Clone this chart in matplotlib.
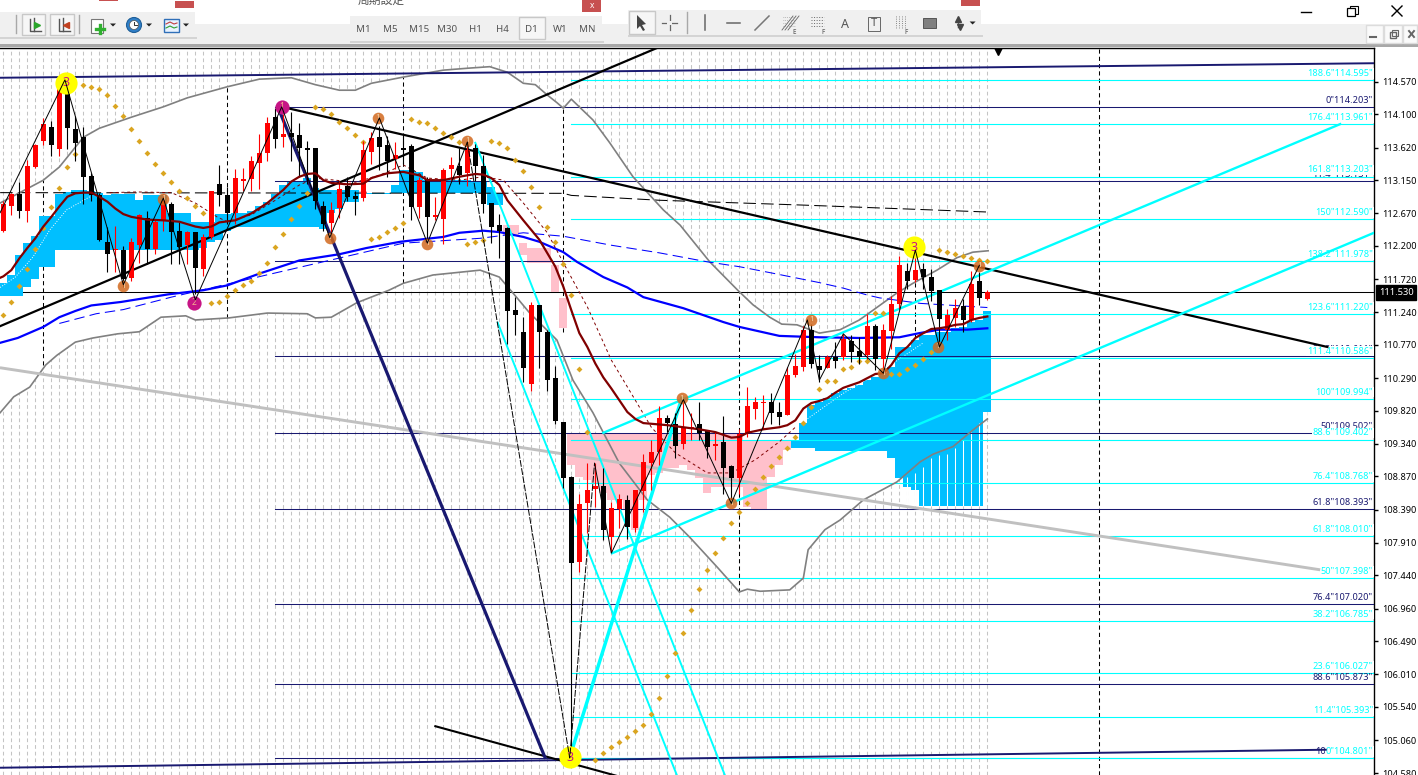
import matplotlib
matplotlib.use("Agg")
import matplotlib.pyplot as plt
from matplotlib.patches import Rectangle, Polygon, Circle
import numpy as np

plt.rcParams['font.family'] = ['Noto Sans', 'DejaVu Sans']

# ---------- candles: one row per day, index 0..123 ----------
opens = [112.41,112.77,112.95,112.70,113.34,113.71,113.92,113.60,114.51,113.89,
         113.78,113.21,112.94,112.26,112.14,112.14,111.74,112.22,112.61,112.16,
         112.56,112.81,112.42,112.22,112.40,111.86,112.33,113.10,112.93,112.68,
         113.14,113.16,113.40,113.54,114.06,113.78,113.83,113.81,113.61,113.61,
         112.77,112.53,112.75,113.06,112.92,112.89,113.55,113.78,113.66,113.45,
         113.62,113.64,112.76,113.17,112.62,112.59,113.31,113.36,113.25,113.61,
         113.35,112.82,112.50,112.46,111.27,110.95,110.20,111.34,110.96,110.29,
         109.65,108.86,107.64,108.49,108.69,108.73,107.99,108.40,108.53,108.12,
         108.66,109.07,109.22,109.72,109.63,109.34,109.57,109.62,109.52,109.31,
         109.37,109.02,108.85,109.49,109.84,109.93,109.95,109.80,109.76,110.34,
         110.45,110.98,110.46,110.43,110.59,110.59,110.83,110.68,110.62,111.04,
         110.56,110.97,111.36,111.84,111.71,111.87,111.75,111.56,110.99,111.16,
         111.33,111.13,111.69,111.44]
highs = [112.85,112.97,113.13,113.44,113.68,114.05,114.00,114.59,114.59,114.08,
         113.92,113.26,112.97,112.47,112.49,112.20,112.32,112.66,112.71,112.57,
         112.95,112.83,112.54,112.42,112.40,112.37,113.00,113.37,113.05,113.31,
         113.33,113.50,113.82,114.07,114.20,114.10,114.14,113.98,113.72,113.62,
         112.85,112.84,113.14,113.19,113.00,113.72,113.84,113.94,113.79,113.70,
         113.79,113.67,113.19,113.19,112.90,113.33,113.48,113.62,113.67,113.67,
         113.51,112.82,112.66,112.47,111.46,111.17,111.39,111.35,110.98,110.46,
         109.66,108.87,108.62,109.06,109.06,108.99,108.50,108.62,108.60,108.68,
         109.19,109.39,109.88,109.75,109.78,109.99,109.78,109.94,109.54,109.51,
         109.74,109.03,109.56,110.16,110.02,110.04,110.07,109.95,110.45,110.64,
         111.05,111.07,110.62,110.62,110.81,110.93,110.91,110.88,111.21,111.07,
         111.07,111.47,112.06,111.96,112.08,111.96,111.87,111.57,111.29,111.44,
         111.44,111.84,111.82,111.57]
lows = [112.40,112.64,112.61,112.54,113.33,113.66,113.50,113.50,113.60,113.43,
        112.81,112.85,112.27,111.82,111.83,111.60,111.70,111.96,111.94,112.08,
        112.42,111.94,111.94,111.94,111.51,111.76,112.30,112.78,112.52,112.52,
        113.00,113.00,113.02,113.43,113.62,113.63,113.43,113.19,113.10,112.73,
        112.42,112.37,112.61,112.85,112.64,112.85,113.38,113.29,113.19,113.31,
        113.38,112.57,112.61,112.28,112.57,112.23,113.14,113.10,113.07,113.14,
        112.67,112.24,112.03,110.79,110.91,110.23,110.10,110.43,110.11,109.62,
        108.70,104.80,107.49,108.05,108.43,107.95,107.78,108.12,107.96,108.07,
        108.36,108.67,109.03,109.51,109.13,109.27,109.39,109.39,109.14,109.10,
        108.62,108.50,108.62,109.44,109.70,109.56,109.63,109.61,109.75,110.31,
        110.39,110.43,110.24,110.43,110.44,110.55,110.52,110.50,110.57,110.40,
        110.38,110.71,111.29,111.58,111.68,111.58,111.41,110.74,110.84,111.03,
        110.95,111.10,111.35,111.42]
closes = [112.80,112.95,112.71,113.36,113.66,113.96,113.66,114.50,113.91,113.69,
          113.19,112.93,112.28,112.09,112.16,111.72,112.25,112.65,112.16,112.54,
          112.85,112.40,112.19,112.40,111.88,112.33,113.00,112.93,112.67,113.18,
          113.16,113.43,113.54,113.98,113.75,113.82,113.78,113.61,113.59,112.85,
          112.52,112.72,113.02,112.91,112.88,113.58,113.76,113.63,113.43,113.51,
          113.59,112.76,113.15,112.62,112.64,113.30,113.37,113.23,113.59,113.36,
          112.81,112.48,112.42,111.26,111.20,110.44,111.34,110.95,110.26,109.67,
          108.85,107.62,108.47,108.67,108.73,108.10,108.42,108.54,108.14,108.67,
          109.08,109.22,109.72,109.64,109.31,109.58,109.58,109.49,109.30,109.34,
          108.99,108.85,109.48,109.88,109.94,109.95,109.79,109.73,110.34,110.46,
          110.98,110.50,110.40,110.59,110.53,110.85,110.67,110.60,111.04,110.57,
          110.98,111.36,111.93,111.70,111.85,111.75,111.55,111.14,111.20,111.31,
          111.13,111.65,111.45,111.53]

# ---------- moving averages and bands ----------
ma_red_i = [-0.4,0,1,2,3,4,5,6,7,8,9,10,11,12,13,14,15,16,17,18,20,22,24,25,26,27,29,31,33,35,36,37,38,39,40,41,43,45,46,48,50,52,53,55,57,59,
            60,61,62,63,65,67,69,70,71,72,73,74,75,76,77,78,79,80,81,83,85,87,89,91,92,93,95,97,98,99,100,101,102,103,104,105,106,107,108,109,110,111,112,113,114,115,116,117,118,119,120,121,122,123]
ma_red = [111.74,111.76,111.85,112.02,112.17,112.31,112.48,112.62,112.77,112.91,112.96,112.97,112.97,112.91,112.84,112.74,112.66,112.62,112.60,112.58,112.57,112.55,112.48,112.46,112.48,112.54,112.57,112.67,112.82,113.01,113.13,113.20,113.24,113.25,113.15,113.11,113.09,113.10,113.18,113.25,113.27,113.22,113.15,113.15,113.20,113.24,
          113.23,113.18,113.08,112.86,112.57,112.29,111.90,111.61,111.27,110.94,110.74,110.50,110.30,110.14,109.97,109.80,109.70,109.64,109.63,109.61,109.58,109.55,109.51,109.43,109.44,109.50,109.55,109.58,109.61,109.68,109.85,109.93,109.96,110.00,110.08,110.15,110.19,110.23,110.29,110.35,110.36,110.48,110.65,110.74,110.87,110.94,111.00,111.01,111.03,111.06,111.07,111.13,111.16,111.18]
ma_blue_i = [-0.4,1.8,5,7,9,11,14.7,20.6,25,28,32,37,42,45.4,49.6,55,57,60,62,65,67,70,71.7,75,78,80,85,90,92,97,102,107,112,114.5,117,120.5,123]
ma_blue = [110.80,110.87,111.03,111.17,111.26,111.34,111.39,111.50,111.56,111.63,111.80,111.99,112.08,112.17,112.26,112.33,112.39,112.42,112.40,112.33,112.26,112.11,111.97,111.75,111.60,111.46,111.30,111.10,111.03,110.90,110.88,110.87,110.88,110.94,110.99,110.99,111.01]
ma_blue2_i = [7,11.6,15,18,21,50,59.6,65,70,76,82,88,92,96,102,105,108,109.5,114.6,123]
ma_blue2 = [111.08,111.22,111.28,111.37,111.46,112.24,112.31,112.39,112.34,112.21,112.10,111.97,111.90,111.81,111.67,111.59,111.49,111.45,111.37,111.31]
ma_dash_i = [13.3,16.7,21,24,26.7,28,31,34,37,39,44,47,50,53,57,60,62.5,65,68,70.5,73,76,79,81,84,88,91,94,97,99]
ma_dash = [112.97,112.98,112.97,112.82,112.62,112.55,112.65,112.86,113.08,113.18,113.12,113.22,113.37,113.18,113.15,113.20,113.15,112.82,112.39,111.85,111.32,110.55,109.97,109.58,109.21,108.92,108.92,109.11,109.37,109.58]
long_dash_i = [-0.4,70,71,82,100,123]
long_dash = [112.97,112.96,112.93,112.86,112.79,112.69]
band_up_i = [-0.4,5,7,10,12,16,20,23,28,32,36,39,42,44,46,50,55,58.3,60.8,63,65,66.5,68,69.2,70,71,73.7,75.8,78.7,82.5,84.6,88.3,91.8,93.7,95.8,97.3,99.2,102,104.6,107,108.7,111.7,113.7,116.7,119.2,121.2,123.1]
band_up = [112.82,113.15,113.34,113.77,113.90,114.06,114.21,114.34,114.50,114.61,114.63,114.53,114.45,114.45,114.55,114.64,114.74,114.77,114.79,114.71,114.55,114.53,114.38,114.27,114.19,114.32,114.02,113.69,113.20,112.72,112.50,111.97,111.56,111.35,111.17,111.07,111.06,110.94,110.99,111.13,111.27,111.52,111.66,111.85,112.03,112.11,112.13]
band_lo_i = [-0.4,1.3,3.3,5.3,6.7,9,11.2,14.3,17,19.7,22.8,24,28.2,33,38,39,41,44.2,48.2,50,53.7,59.6,62,63.7,65.8,69.2,71.2,73.7,77,80.5,83.3,85.8,89.3,92,93,94.6,98.3,100,100.6,102.7,104.6,107.5,111.7,114.6,116.2,118.7,121.2,123]
band_lo = [109.79,110.02,110.16,110.48,110.62,110.81,110.87,110.93,110.96,111.17,111.19,111.13,111.16,111.23,111.22,111.16,111.17,111.38,111.56,111.66,111.78,111.85,111.75,111.52,111.23,110.84,110.26,109.79,109.06,108.53,108.28,107.99,107.55,107.20,107.24,107.21,107.23,107.40,107.81,108.10,108.24,108.53,108.79,109.08,109.19,109.30,109.54,109.70]
white_l_i = [-0.4,1.5,3.7,5.8,7.9,10.8]
white_l = [111.60,111.75,112.04,112.43,112.72,112.91]
white_r_i = [100,105,110,115]
white_r = [109.66,110.07,110.41,110.80]

# ---------- parabolic dots ----------
sar_i = [0,1,2,3,4,5,6,7,8,9,10,11,12,13,14,15,16,17,18,19,20,21,22,23,24,25,26,27,28,29,30,31,32,33,34,35,36,37,38,39,40,41,42,43,44,45,46,47,48,49,50,51,52,53,54,55,56,57,58,59,60,61,62,63,64,65,66,67,68,69,70,71,72,73,74,75,76,77,78,79,80,81,82,83,84,85,86,87,88,89,90,91,92,93,94,95,96,97,98,99,100,101,102,103,104,105,106,107,108,109,110,111,112,113,114,115,116,117,118,119,120,121,122,123]
sar = [111.20,111.39,111.62,111.87,112.16,112.46,112.76,113.04,113.34,113.53,114.53,114.50,114.47,114.38,114.22,114.08,113.89,113.72,113.54,113.38,113.25,113.12,112.99,112.89,112.78,112.68,111.38,111.39,111.48,111.56,111.63,111.69,111.81,111.95,112.18,112.37,112.59,112.78,112.97,114.21,114.18,114.11,113.99,113.90,113.80,113.70,112.30,112.33,112.40,112.46,112.53,114.03,113.99,113.98,113.90,113.83,113.77,113.70,112.23,112.26,112.29,113.72,113.69,113.61,113.44,113.28,113.05,112.76,112.47,112.26,111.94,111.49,110.42,109.51,104.77,104.87,104.96,105.03,105.10,105.19,105.28,105.44,105.67,105.98,106.32,106.61,106.94,107.24,107.52,107.76,107.98,108.20,108.35,108.48,108.69,108.86,109.02,109.15,109.28,109.44,109.64,109.87,110.13,110.25,110.25,110.42,110.45,110.54,110.54,111.23,111.23,110.35,110.35,110.42,110.48,110.57,110.67,112.14,112.11,112.08,112.05,112.03,112.00,111.98]

# ---------- cloud ----------
blue_i = list(range(0,45)) + [46,47,48,49,50,51,52,53,54,55,56,57,58,59,60,61,62] + list(range(99,124))
blue_top = [111.66,111.78,112.07,112.24,112.34,112.63,112.63,112.95,112.98,113.01,113.01,113.00,112.97,112.94,112.95,112.95,112.95,112.86,112.94,112.94,112.94,112.67,112.67,112.67,112.55,112.55,112.55,112.66,112.66,112.67,112.67,112.70,112.77,112.84,112.95,113.08,113.13,113.13,113.18,113.03,113.01,113.01,113.01,113.01,113.01,
            112.97,112.97,112.97,113.08,113.29,113.30,113.27,113.15,113.15,113.15,113.15,113.15,113.15,113.13,113.12,113.05,112.96,
            109.39,109.64,109.90,109.94,110.00,110.07,110.12,110.15,110.19,110.26,110.31,110.36,110.45,110.74,110.74,110.84,110.91,110.91,110.96,110.96,111.01,111.03,111.10,111.13,111.26]
blue_bot = [111.47,111.47,111.47,111.61,111.72,111.90,111.90,112.14,112.14,112.14,112.14,112.14,112.14,112.14,112.14,112.14,112.14,112.14,112.14,112.14,112.14,112.14,112.14,112.14,112.14,112.17,112.26,112.29,112.41,112.47,112.47,112.47,112.47,112.47,112.47,112.47,112.47,112.47,112.47,112.47,112.45,112.67,112.74,112.84,112.84,
            112.95,112.95,112.95,112.96,112.96,112.96,112.96,112.96,112.96,112.96,112.96,112.96,112.96,112.96,112.96,112.79,112.79,
            109.28,109.28,109.28,109.24,109.24,109.24,109.24,109.24,109.24,109.24,109.24,109.24,109.14,108.85,108.72,108.67,108.44,108.44,108.44,108.44,108.44,108.44,108.44,108.44,109.80]
pink_i = [45,63,64,65,66,67,68,69,70] + list(range(71,99))
pink_top = [113.00,112.50,112.50,112.24,112.17,112.17,112.17,111.92,111.45] + [109.50]*22 + [109.39]*6
pink_bot = [112.96,112.36,112.36,112.07,111.95,111.95,111.95,111.53,111.01,
            109.03,108.86,108.82,108.77,108.63,108.53,108.53,108.38,108.10,108.53,108.89,108.92,108.99,108.99,109.03,108.96,108.85,108.63,108.72,108.72,108.72,108.72,
            108.43,108.38,108.38,108.86,109.03,109.25]
gap_i = [113,114,115,116,117,118,119,120,121,122]
gap_top = [108.86,108.92,109.00,109.14,109.18,109.19,109.28,109.39,109.51,109.64]
gap_bot = [108.44]*10

# ---------- zigzag ----------
zig_i = [-0.4,7.7,15,20,24,34.8,40.8,47,53,58]
zig_p = [112.68,114.60,111.64,112.89,111.42,114.21,112.32,114.05,112.24,113.70]
zig_dash_i = [58,70.8,73.9]
zig_dash_p = [113.70,104.80,109.06]
zig2_i = [73.9,76,85,91,100.5,102,105,110,114,117,122]
zig2_p = [109.06,107.76,109.98,108.48,111.13,110.26,110.93,110.36,112.14,110.74,111.92]

# ---------- fib levels ----------
navy_levels = [114.203,113.131,111.984,110.611,109.502,108.393,107.020,105.873,104.801]
navy_labels = ['0"114.203"','11.4"113.131"','23.6"111.984"','38.2"110.611"','50"109.502"','61.8"108.393"','76.4"107.020"','88.6"105.873"','100"104.801"']
cyan_levels = [114.595,113.961,113.203,112.590,111.978,111.220,110.586,109.994,109.402,108.768,108.010,107.398,106.785,106.027,105.393,104.801]
cyan_labels = ['188.6"114.595"','176.4"113.961"','161.8"113.203"','150"112.590"','138.2"111.978"','123.6"111.220"','111.4"110.586"','100"109.994"','88.6"109.402"','76.4"108.768"','61.8"108.010"','50"107.398"','38.2"106.785"','23.6"106.027"','11.4"105.393"','0"104.801"']

y_ticks = [114.570,114.100,113.620,113.150,112.670,112.200,111.720,111.240,110.770,110.290,109.820,109.340,108.870,108.390,107.910,107.440,106.960,106.490,106.010,105.540,105.060,104.580]
separators = [5,28,50,70,92,114,137]
sep_up = [113.15,114.50,114.64,114.19,111.55,111.68,115.06]
sep_lo = [110.48,111.16,111.66,110.95,107.20,109.08,104.555]
last_price = 111.530

orange_i = [15,20,40.8,46.8,53,58,84.8,91,101,110,116.8,122]
orange_p = [111.62,112.88,112.32,114.05,112.23,113.72,110.00,108.48,111.13,110.36,110.74,111.91]
magenta_i = [34.8,23.8]
magenta_p = [114.21,111.38]
yellow_i = [7.8,113.8,70.8]
yellow_p = [114.56,112.18,104.81]

timeframes = ['M1','M5','M15','M30','H1','H4','D1','W1','MN']

W, H, TOP, RIGHT = 1418, 775, 48, 1374
fig = plt.figure(figsize=(W/100, H/100), dpi=100, facecolor='white')

# ---------- window chrome, in pixels ----------
ui = fig.add_axes([0,0,1,1], zorder=0)
ui.set_xlim(0,W); ui.set_ylim(H,0); ui.axis('off')
def box(x0,y0,x1,y1,fc,ec='none',lw=0,z=1):
    ui.add_patch(Rectangle((x0,y0),x1-x0,y1-y0,fc=fc,ec=ec,lw=lw,zorder=z))
GR = '#f0f0f0'
box(0,24,W,44,GR); box(0,44,W,46.5,'#a8a8a8')
for (a,b,c,d) in [(0,195,12,37),(350,602,16,41),(628,981,10,35)]:
    box(a,0,b,c,'white',z=2); box(a,c,b,d,GR,z=2); box(a,d,b+2,d+2,'#d4d4d4',z=1.5)
box(99,0,118,1,'#c75050',z=3); box(175,1,194,8,'#c75050',z=3)
box(582,0,601,12,'#c75050',z=3); box(961,0,980,6,'#c75050',z=3)
ui.text(592,5,'x',color='white',fontsize=6,ha='center',va='center',zorder=4)
ui.text(381,6.5,'周期設定',family=['Noto Sans CJK JP','DejaVu Sans'],fontsize=8.5,color='#555555',ha='center',va='bottom',zorder=4)
tx = [363,390.5,419,447,475.5,502.5,531.5,560,587]
for x,t in zip(tx,timeframes):
    ui.text(x,29,t,fontsize=7,color='#555555',ha='center',va='center',zorder=4)
box(519,17,544.5,39,'#f6f6f6','#c8c8c8',1,3)
for x in (16,79,687):
    ui.plot([x,x],[15 if x<600 else 12,33],color='#a8a8a8',lw=1,zorder=4)
box(22,14,45,35,'#f6f6f6','#c8c8c8',1,3); box(50,14,74,35,'#f6f6f6','#c8c8c8',1,3)
for x,mark in ((33,'#2aa52a'),(62,'#c04020')):
    ui.plot([x-3,x-3,x+8],[19,31,31],color='#555555',lw=1,zorder=4)
    ui.plot([x+1,x+1],[18,31],color='#555555',lw=1,zorder=4)
    ui.plot([x+4],[25],marker='>' if x==33 else '<',ms=4,color=mark,zorder=4)
box(91,19,103,33,'white','#777777',0.8,4)
ui.plot([96,104],[29,29],color='#30b030',lw=2.4,zorder=5); ui.plot([100,100],[25,33],color='#30b030',lw=2.4,zorder=5)
ui.add_patch(Circle((134,25),7.5,fc='#2f7fc8',ec='#1f5f98',lw=0.8,zorder=4))
ui.add_patch(Circle((134,25),4.5,fc='white',ec='#555555',lw=0.5,zorder=5))
ui.plot([134,134,137],[22,25,25],color='#333333',lw=0.7,zorder=6)
box(164,19,179,32,'#e8f2ff','#2f6fb8',1,4)
ui.plot([166,170,174,177],[24,22,24,23],color='#c04040',lw=0.8,zorder=5)
ui.plot([166,170,174,177],[28,26,28,27],color='#30a030',lw=0.8,zorder=5)
for x,y in ((113,25),(149,25),(186,25),(972.6,23)):
    ui.add_patch(Polygon([(x-3,y-1.5),(x+3,y-1.5),(x,y+1.5)],fc='#222222',zorder=5))
box(629,11,655,34,'#f6f6f6','#c8c8c8',1,3)
ui.add_patch(Polygon([(637,15),(637,29),(640,26),(643,31),(645,30),(642,25),(646,24)],fc='#444444',zorder=5))
ui.plot([662,677],[23,23],color='#666666',lw=0.9,zorder=5); ui.plot([669.6,669.6],[15,30],color='#666666',lw=0.9,zorder=5)
box(667,21,672,25,GR,z=5.5)
ui.plot([705,705],[15,30],color='#666666',lw=1.1,zorder=5)
ui.plot([727,740],[23,23],color='#666666',lw=1.1,zorder=5)
ui.plot([755,769],[30,16],color='#777777',lw=1.1,zorder=5)
for d in (0,3,6):
    ui.plot([782+d,793+d],[30,16],color='#666666',lw=0.6,zorder=5)
for yy in (17,20,23,26):
    ui.plot([783,795],[yy,yy],color='#888888',lw=0.5,ls=':',zorder=5)
    ui.plot([811,824],[yy,yy],color='#666666',lw=0.7,ls=':',zorder=5)
ui.text(794,32,'E',fontsize=4.5,weight='bold',color='#444444',ha='center',va='center',zorder=5)
ui.text(823,32,'F',fontsize=4.5,weight='bold',color='#444444',ha='center',va='center',zorder=5)
ui.text(845,24,'A',fontsize=9,weight='bold',color='#555555',ha='center',va='center',zorder=5)
box(868,17,880,31,'none','#666666',0.7,5); ui.text(874,24,'T',fontsize=8,weight='bold',color='#555555',ha='center',va='center',zorder=5)
for xx in (896,899,902,905):
    ui.plot([xx,xx],[16,29],color='#666666',lw=0.6,ls=':',zorder=5)
ui.text(906,32,'F',fontsize=4.5,weight='bold',color='#444444',ha='center',va='center',zorder=5)
ui.add_patch(Rectangle((923,18),13,10,fc='#808080',ec='#555555',lw=0.7,zorder=5))
ui.plot([958,958],[19,28],color='#444444',lw=1,ls=':',zorder=5)
ui.plot([958],[19],marker='^',ms=4,color='#444444',zorder=5); ui.plot([960],[27],marker='v',ms=4,color='#444444',zorder=5)
ui.plot([1301,1311],[11.5,11.5],color='black',lw=1,zorder=5)
box(1349.5,6,1357.5,14,'none','black',0.8,4.5); box(1347,8,1355,16,'white','black',0.9,4.7)
ui.plot([1392,1402],[6,16],color='black',lw=1,zorder=5); ui.plot([1392,1402],[16,6],color='black',lw=1,zorder=5)
for a,b in ((1366,1383),(1384,1402),(1403,1417)):
    box(a,25,b,43,'#fafafa','#dcdcdc',1,3)
ui.plot([1370,1376],[37,37],color='#666666',lw=1.5,zorder=5)
box(1390,32,1396,38,'none','#666666',1,5); box(1392,30,1398,36,'none','#666666',0.8,5)
ui.plot([1409,1414],[31,37],color='#666666',lw=1.4,zorder=5); ui.plot([1409,1414],[37,31],color='#666666',lw=1.4,zorder=5)

# ---------- price chart ----------
ax = fig.add_axes([0, 0, RIGHT/W, (H-TOP)/H], zorder=1, facecolor='white')
ax.set_xlim(-0.416, 171.33)
ax.set_ylim(104.555, 115.06)
ymin, ymax = ax.get_ylim()

idx = np.arange(len(opens))
ax.vlines(idx, ymin, ymax, color='#c4c4c4', lw=0.75, linestyles=(0,(3.6,2.8)), zorder=1)
ax.fill(list(band_up_i)+list(band_lo_i[::-1]), list(band_up)+list(band_lo[::-1]), color='white', lw=0, zorder=1.2)
ax.vlines(separators, sep_lo, sep_up, color='black', lw=0.75, linestyles=(0,(4,3)), zorder=1.5)
ax.axhline(last_price, color='black', lw=0.75, zorder=1.6)

ax.bar(blue_i, np.array(blue_top)-np.array(blue_bot), bottom=blue_bot, width=1.0, color='#00BFFF', lw=0, zorder=2)
ax.bar(pink_i, np.array(pink_top)-np.array(pink_bot), bottom=pink_bot, width=1.0, color='#FFC0CB', lw=0, zorder=2)
ax.vlines(gap_i, gap_bot, gap_top, color='white', lw=0.75, zorder=2.1)
ax.plot(white_l_i, white_l, color='white', lw=0.7, ls=':', zorder=2.2)
ax.plot(white_r_i, white_r, color='white', lw=0.7, ls=':', zorder=2.2)

for lev in navy_levels:
    ax.plot([34, 171.2], [lev, lev], color='#191970', lw=0.75, zorder=3)
for lev in cyan_levels:
    ax.plot([71, 171.2], [lev, lev], color='#00FFFF', lw=0.8, zorder=3.1)
for lev, t in zip(navy_levels, navy_labels):
    ax.text(171.2, lev+0.03, t, color='#191970', fontsize=6.6, ha='right', va='bottom', zorder=3.2)
for lev, t in zip(cyan_levels, cyan_labels):
    ax.text(171.2, lev+0.03, t, color='#00FFFF', fontsize=6.6, ha='right', va='bottom', zorder=3.3,
            bbox=dict(boxstyle='square,pad=0.08', fc='white', ec='none'))

ax.plot(band_up_i, band_up, color='#808080', lw=1.2, zorder=3.5)
ax.plot(band_lo_i, band_lo, color='#808080', lw=1.2, zorder=3.5)
ax.plot(long_dash_i, long_dash, color='black', lw=0.75, dashes=(12,5), zorder=3.4)
ax.plot(ma_blue2_i, ma_blue2, color='#0000FF', lw=0.75, dashes=(10,5), zorder=3.6)
ax.plot(ma_blue_i, ma_blue, color='#0000FF', lw=1.6, zorder=3.7)
ax.plot(ma_dash_i, ma_dash, color='#800000', lw=0.7, dashes=(3,3), zorder=3.7)

ax.plot([-0.42,164.6],[110.44,107.52], color='#C0C0C0', lw=2.1, zorder=3.8, solid_capstyle='butt')
ax.plot([-0.42,171.33],[114.63,114.84], color='#191970', lw=1.4, zorder=3.9)
ax.plot([-0.42,165.3],[104.66,104.92], color='#191970', lw=1.4, zorder=3.9)
ax.plot([34.3,67.7],[114.21,104.81], color='#191970', lw=2.3, zorder=4.2)
ax.plot([-0.42,81.7],[111.04,115.06], color='black', lw=1.6, zorder=4.1)
ax.plot([34.8,165.5],[114.21,110.74], color='black', lw=1.6, zorder=4.1)
ax.plot([54,77.7],[105.26,104.51], color='black', lw=1.5, zorder=4.1)
ax.plot([75,167.1],[109.50,113.96], color='#00FFFF', lw=1.7, zorder=4.3)
ax.plot([76.1,171.33],[107.76,112.39], color='#00FFFF', lw=1.7, zorder=4.3)
ax.plot([70.8,84.8],[104.81,110.00], color='#00FFFF', lw=2.5, zorder=4.3)
ax.plot([59,90.2],[113.69,104.55], color='#00FFFF', lw=1.4, zorder=4.3)
ax.plot([61.8,84.2],[111.09,104.55], color='#00FFFF', lw=1.4, zorder=4.3)

ax.plot(ma_red_i, ma_red, color='#800000', lw=1.6, zorder=6.5)

o, h, l, c = map(np.array, (opens, highs, lows, closes))
col = np.where(c >= o, '#FF0000', '#000000')
ax.vlines(idx, l, h, colors=col, lw=0.8, zorder=5.5)
ax.bar(idx, np.abs(c-o), bottom=np.minimum(o,c), width=0.63, color=col, lw=0, zorder=5.6)

ax.plot(sar_i, sar, ls='none', marker='D', ms=3, color='#DAA520', mew=0, zorder=5)

ax.scatter(yellow_i, yellow_p, s=255, color='#FFFF00', lw=0, zorder=6.6)
for x,y in zip(yellow_i, yellow_p):
    ax.text(x, y, '3', color='#C71585', fontsize=9, weight='bold', ha='center', va='center', zorder=6.7)
ax.scatter(orange_i, orange_p, s=70, color='#D2691E', alpha=0.85, lw=0, zorder=6.7)
ax.scatter(magenta_i, magenta_p, s=105, color='#C71585', lw=0, zorder=6.7)
for x,y in zip(orange_i, orange_p):
    ax.text(x, y, '1', color='#f4d8b0', fontsize=5.5, ha='center', va='center', zorder=6.8)
for x,y,t in zip(magenta_i, magenta_p, ('1','2')):
    ax.text(x, y, t, color='#f4b090', fontsize=6, ha='center', va='center', zorder=6.8)

ax.plot(zig_i, zig_p, color='black', lw=0.7, zorder=7)
ax.plot(zig_dash_i, zig_dash_p, color='black', lw=0.7, dashes=(7,1.5), zorder=7)
ax.plot(zig2_i, zig2_p, color='black', lw=0.7, zorder=7)
ax.plot([124.3],[115.02], marker='v', ms=6, color='black', zorder=7)

for s in ('left','bottom'):
    ax.spines[s].set_visible(False)
ax.spines['top'].set_linewidth(1); ax.spines['right'].set_linewidth(1)
ax.set_xticks([])
ax.yaxis.tick_right()
ax.set_yticks(y_ticks)
ax.set_yticklabels(['%.3f' % v for v in y_ticks], fontsize=6.6, color='black')
ax.tick_params(axis='y', length=3, width=1, pad=3, color='black')
ax.text(1.0035, last_price, '%.3f' % last_price, transform=ax.get_yaxis_transform(),
        color='white', fontsize=6.8, ha='left', va='center', zorder=10,
        bbox=dict(boxstyle='square,pad=0.3', fc='black', ec='black'), clip_on=False)

fig.savefig('out.png', dpi=100, facecolor='white')
